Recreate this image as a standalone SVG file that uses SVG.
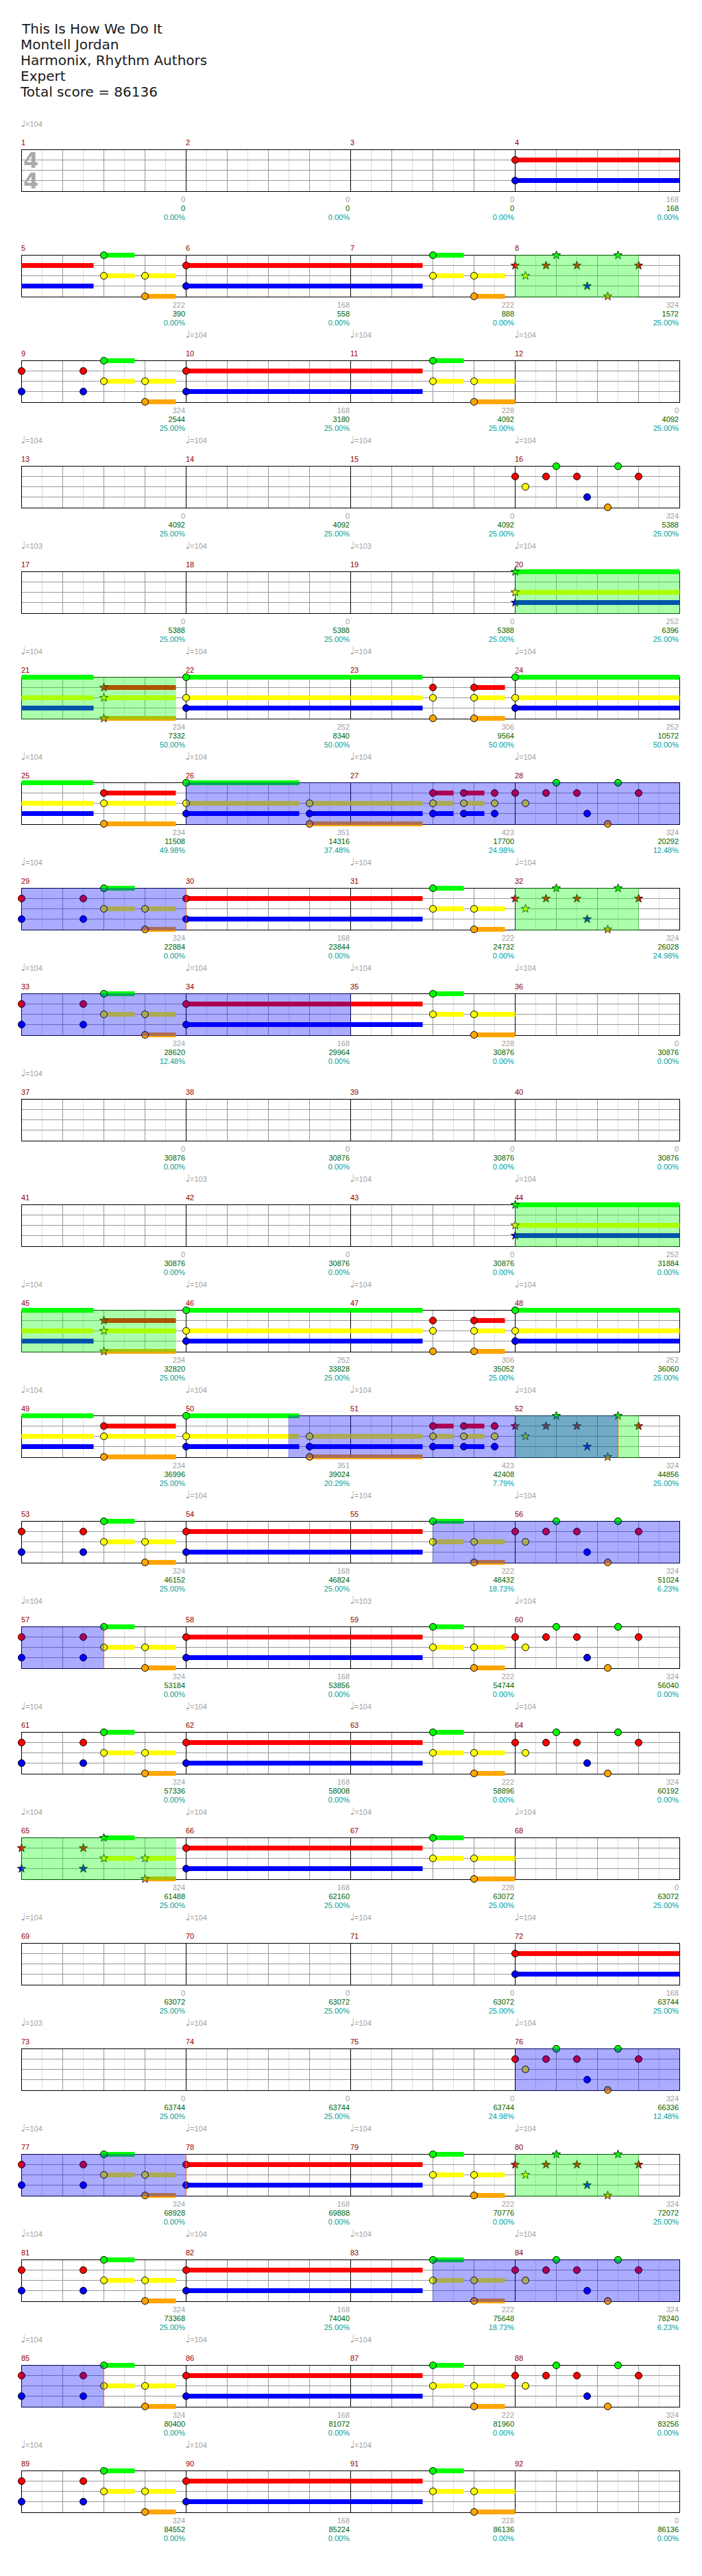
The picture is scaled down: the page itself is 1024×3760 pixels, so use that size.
<svg xmlns="http://www.w3.org/2000/svg" width="1024" height="3760" viewBox="0 0 1024 3760">
<style>
text{font-family:"Liberation Sans",Arial,sans-serif;font-size:11px}
.ti{font-family:"DejaVu Sans",Verdana,sans-serif;font-size:20px;fill:#1a1a1a}
.mn{fill:#900000}
.s1{fill:#a0a0a0;text-anchor:end}
.s2{fill:#006400;text-anchor:end}
.s3{fill:#00a0a0;text-anchor:end}
.tp{fill:#a0a0a0}
.q{font-family:"DejaVu Sans",sans-serif;font-size:15px;fill:#a0a0a0}
.ts{font-family:"DejaVu Sans",sans-serif;font-size:32px;font-weight:bold;fill:#aaaaaa}
.lt{stroke:#dddddd;stroke-width:1;fill:none}
.gy{stroke:#999999;stroke-width:1;fill:none}
.bk{stroke:#000000;stroke-width:1;fill:none}
.g{fill:#00ff00}.r{fill:#ff0000}.y{fill:#ffff00}.b{fill:#0000ff}.o{fill:#ffa500}
.h{stroke:#000000;stroke-width:1}
.st{stroke:#000000;stroke-width:0.8}
.sp{fill:#00ff00;fill-opacity:0.33}
.so{fill:#0000ff;fill-opacity:0.33}
.se{stroke:#e86040;stroke-width:1}
</style>
<defs>
<path id="star" d="M0,-6.5 L1.53,-2.1 L6.18,-2.01 L2.47,0.8 L3.82,5.26 L0,2.6 L-3.82,5.26 L-2.47,0.8 L-6.18,-2.01 L-1.53,-2.1 Z"/>
<g id="staff">
<path class="lt" d="M30 0V61M90 0V61M150 0V61M210 0V61M270 0V61M330 0V61M390 0V61M450 0V61M510 0V61M570 0V61M630 0V61M690 0V61M750 0V61M810 0V61M870 0V61M930 0V61"/>
<path class="gy" d="M60 0V61M120 0V61M180 0V61M300 0V61M360 0V61M420 0V61M540 0V61M600 0V61M660 0V61M780 0V61M840 0V61M900 0V61M0 15H960M0 30H960M0 45H960"/>
<path class="bk" d="M240 0V61M480 0V61M720 0V61"/>
<rect class="bk" x="0" y="0" width="960" height="61"/>
</g>
<g id="t104"><text class="q" x="-1" y="0">♩</text><text class="tp" x="5.5" y="0">=104</text></g>
<g id="t103"><text class="q" x="-1" y="0">♩</text><text class="tp" x="5.5" y="0">=103</text></g>
<g id="pS">
<circle class="h r" cx="0" cy="15" r="5"/><circle class="h y" cx="15" cy="30" r="5"/><circle class="h r" cx="45" cy="15" r="5"/><circle class="h g" cx="60" cy="0" r="5"/><circle class="h r" cx="90" cy="15" r="5"/><circle class="h b" cx="105" cy="45" r="5"/><circle class="h o" cx="135" cy="60" r="5"/><circle class="h g" cx="150" cy="0" r="5"/><circle class="h r" cx="180" cy="15" r="5"/>
</g>
<g id="pSs">
<use href="#star" class="st r" x="0" y="15"/><use href="#star" class="st y" x="15" y="30"/><use href="#star" class="st r" x="45" y="15"/><use href="#star" class="st g" x="60" y="0"/><use href="#star" class="st r" x="90" y="15"/><use href="#star" class="st b" x="105" y="45"/><use href="#star" class="st o" x="135" y="60"/><use href="#star" class="st g" x="150" y="0"/><use href="#star" class="st r" x="180" y="15"/>
</g>
<g id="pA">
<rect class="g" x="120" y="-3.5" width="45" height="7"/><rect class="y" x="120" y="26.5" width="45" height="7"/><rect class="y" x="180" y="26.5" width="45" height="7"/><rect class="o" x="180" y="56.5" width="45" height="7"/>
<circle class="h r" cx="0" cy="15" r="5"/><circle class="h b" cx="0" cy="45" r="5"/><circle class="h r" cx="90" cy="15" r="5"/><circle class="h b" cx="90" cy="45" r="5"/><circle class="h g" cx="120" cy="0" r="5"/><circle class="h y" cx="120" cy="30" r="5"/><circle class="h y" cx="180" cy="30" r="5"/><circle class="h o" cx="180" cy="60" r="5"/>
</g>
<g id="pAs">
<rect class="g" x="120" y="-3.5" width="45" height="7"/><rect class="y" x="120" y="26.5" width="45" height="7"/><rect class="y" x="180" y="26.5" width="45" height="7"/><rect class="o" x="180" y="56.5" width="45" height="7"/>
<use href="#star" class="st r" x="0" y="15"/><use href="#star" class="st b" x="0" y="45"/><use href="#star" class="st r" x="90" y="15"/><use href="#star" class="st b" x="90" y="45"/><use href="#star" class="st g" x="120" y="0"/><use href="#star" class="st y" x="120" y="30"/><use href="#star" class="st y" x="180" y="30"/><use href="#star" class="st o" x="180" y="60"/>
</g>
<g id="pA5">
<rect class="r" x="0" y="11.5" width="105" height="7"/><rect class="b" x="0" y="41.5" width="105" height="7"/>
<rect class="g" x="120" y="-3.5" width="45" height="7"/><rect class="y" x="120" y="26.5" width="45" height="7"/><rect class="y" x="180" y="26.5" width="45" height="7"/><rect class="o" x="180" y="56.5" width="45" height="7"/>
<circle class="h g" cx="120" cy="0" r="5"/><circle class="h y" cx="120" cy="30" r="5"/><circle class="h y" cx="180" cy="30" r="5"/><circle class="h o" cx="180" cy="60" r="5"/>
</g>
<g id="pBL">
<rect class="r" x="0" y="11.5" width="105" height="7"/><rect class="b" x="0" y="41.5" width="105" height="7"/>
<rect class="g" x="120" y="-3.5" width="45" height="7"/><rect class="y" x="120" y="26.5" width="45" height="7"/><rect class="y" x="180" y="26.5" width="60" height="7"/><rect class="o" x="180" y="56.5" width="60" height="7"/>
<circle class="h g" cx="120" cy="0" r="5"/><circle class="h y" cx="120" cy="30" r="5"/><circle class="h y" cx="180" cy="30" r="5"/><circle class="h o" cx="180" cy="60" r="5"/>
</g>
<g id="pB1">
<rect class="r" x="0" y="11.5" width="240" height="7"/><rect class="b" x="0" y="41.5" width="240" height="7"/>
<circle class="h r" cx="0" cy="15" r="5"/><circle class="h b" cx="0" cy="45" r="5"/>
</g>
<g id="pT1">
<rect class="g" x="0" y="-3.5" width="240" height="7"/><rect class="y" x="0" y="26.5" width="240" height="7"/><rect class="b" x="0" y="41.5" width="240" height="7"/>
<use href="#star" class="st g" x="0" y="0"/><use href="#star" class="st y" x="0" y="30"/><use href="#star" class="st b" x="0" y="45"/>
</g>
<g id="pC1">
<rect class="g" x="0" y="-3.5" width="240" height="7"/><rect class="y" x="0" y="26.5" width="240" height="7"/><rect class="b" x="0" y="41.5" width="240" height="7"/>
<circle class="h g" cx="0" cy="0" r="5"/><circle class="h y" cx="0" cy="30" r="5"/><circle class="h b" cx="0" cy="45" r="5"/>
</g>
<g id="pT2">
<rect class="g" x="0" y="-3.5" width="105" height="7"/><rect class="y" x="0" y="26.5" width="105" height="7"/><rect class="b" x="0" y="41.5" width="105" height="7"/>
<rect class="r" x="120" y="11.5" width="105" height="7"/><rect class="y" x="120" y="26.5" width="105" height="7"/><rect class="o" x="120" y="56.5" width="105" height="7"/>
<use href="#star" class="st r" x="120" y="15"/><use href="#star" class="st y" x="120" y="30"/><use href="#star" class="st o" x="120" y="60"/>
</g>
<g id="pC4">
<rect class="g" x="0" y="-3.5" width="105" height="7"/><rect class="y" x="0" y="26.5" width="105" height="7"/><rect class="b" x="0" y="41.5" width="105" height="7"/>
<rect class="r" x="120" y="11.5" width="105" height="7"/><rect class="y" x="120" y="26.5" width="105" height="7"/><rect class="o" x="120" y="56.5" width="105" height="7"/>
<circle class="h r" cx="120" cy="15" r="5"/><circle class="h y" cx="120" cy="30" r="5"/><circle class="h o" cx="120" cy="60" r="5"/>
</g>
<g id="pC2">
<rect class="g" x="0" y="-3.5" width="105" height="7"/><rect class="y" x="0" y="26.5" width="105" height="7"/><rect class="b" x="0" y="41.5" width="105" height="7"/>
<rect class="r" x="180" y="11.5" width="45" height="7"/><rect class="y" x="180" y="26.5" width="45" height="7"/><rect class="o" x="180" y="56.5" width="45" height="7"/>
<circle class="h r" cx="120" cy="15" r="5"/><circle class="h y" cx="120" cy="30" r="5"/><circle class="h o" cx="120" cy="60" r="5"/>
<circle class="h r" cx="180" cy="15" r="5"/><circle class="h y" cx="180" cy="30" r="5"/><circle class="h o" cx="180" cy="60" r="5"/>
</g>
<g id="pD1">
<rect class="g" x="0" y="-3.5" width="165" height="7"/><rect class="y" x="0" y="26.5" width="165" height="7"/><rect class="b" x="0" y="41.5" width="165" height="7"/>
<rect class="y" x="180" y="26.5" width="60" height="7"/><rect class="b" x="180" y="41.5" width="60" height="7"/><rect class="o" x="180" y="56.5" width="60" height="7"/>
<circle class="h g" cx="0" cy="0" r="5"/><circle class="h y" cx="0" cy="30" r="5"/><circle class="h b" cx="0" cy="45" r="5"/>
<circle class="h y" cx="180" cy="30" r="5"/><circle class="h b" cx="180" cy="45" r="5"/><circle class="h o" cx="180" cy="60" r="5"/>
</g>
<g id="pD2">
<rect class="y" x="0" y="26.5" width="105" height="7"/><rect class="b" x="0" y="41.5" width="105" height="7"/><rect class="o" x="0" y="56.5" width="105" height="7"/>
<rect class="r" x="120" y="11.5" width="30" height="7"/><rect class="y" x="120" y="26.5" width="30" height="7"/><rect class="b" x="120" y="41.5" width="30" height="7"/>
<rect class="r" x="165" y="11.5" width="30" height="7"/><rect class="y" x="165" y="26.5" width="30" height="7"/><rect class="b" x="165" y="41.5" width="30" height="7"/>
<circle class="h r" cx="120" cy="15" r="5"/><circle class="h y" cx="120" cy="30" r="5"/><circle class="h b" cx="120" cy="45" r="5"/>
<circle class="h r" cx="165" cy="15" r="5"/><circle class="h y" cx="165" cy="30" r="5"/><circle class="h b" cx="165" cy="45" r="5"/>
<circle class="h r" cx="210" cy="15" r="5"/><circle class="h y" cx="210" cy="30" r="5"/><circle class="h b" cx="210" cy="45" r="5"/>
</g>
</defs>
<rect x="0" y="0" width="1024" height="3760" fill="#ffffff"/>
<g id="title">
<text class="ti" x="32" y="49">This Is How We Do It</text>
<text class="ti" x="30" y="72">Montell Jordan</text>
<text class="ti" x="30" y="95">Harmonix, Rhythm Authors</text>
<text class="ti" x="30" y="118">Expert</text>
<text class="ti" x="30" y="141">Total score = 86136</text>
</g>

<g id="row1" transform="translate(31.5 218.5)">
<use href="#staff"/>
<text class="ts" x="2.5" y="26.5">4<tspan x="2.5" y="56.5">4</tspan></text>
<use href="#pB1" x="720"/>
<use href="#t104" y="-33.5"/>
<text class="mn" x="-0.5" y="-7">1</text><text class="mn" x="239.5" y="-7">2</text><text class="mn" x="479.5" y="-7">3</text><text class="mn" x="719.5" y="-7">4</text>
<text class="s1" x="238.5" y="76.5">0</text><text class="s2" x="238.5" y="89.5">0</text><text class="s3" x="238.5" y="102.5">0.00%</text>
<text class="s1" x="478.5" y="76.5">0</text><text class="s2" x="478.5" y="89.5">0</text><text class="s3" x="478.5" y="102.5">0.00%</text>
<text class="s1" x="718.5" y="76.5">0</text><text class="s2" x="718.5" y="89.5">0</text><text class="s3" x="718.5" y="102.5">0.00%</text>
<text class="s1" x="958.5" y="76.5">168</text><text class="s2" x="958.5" y="89.5">168</text><text class="s3" x="958.5" y="102.5">0.00%</text>
</g>

<g id="row2" transform="translate(31.5 372.5)">
<use href="#staff"/>
<use href="#pA5"/><use href="#pB1" x="240"/><use href="#pA5" x="480"/><use href="#pSs" x="720"/>
<rect class="sp" x="719.5" y="-0.5" width="181" height="62"/>
<text class="mn" x="-0.5" y="-7">5</text><text class="mn" x="239.5" y="-7">6</text><text class="mn" x="479.5" y="-7">7</text><text class="mn" x="719.5" y="-7">8</text>
<text class="s1" x="238.5" y="76.5">222</text><text class="s2" x="238.5" y="89.5">390</text><text class="s3" x="238.5" y="102.5">0.00%</text>
<text class="s1" x="478.5" y="76.5">168</text><text class="s2" x="478.5" y="89.5">558</text><text class="s3" x="478.5" y="102.5">0.00%</text>
<text class="s1" x="718.5" y="76.5">222</text><text class="s2" x="718.5" y="89.5">888</text><text class="s3" x="718.5" y="102.5">0.00%</text>
<text class="s1" x="958.5" y="76.5">324</text><text class="s2" x="958.5" y="89.5">1572</text><text class="s3" x="958.5" y="102.5">25.00%</text>
</g>

<g id="row3" transform="translate(31.5 526.5)">
<use href="#staff"/>
<use href="#pA"/><use href="#pB1" x="240"/><use href="#pBL" x="480"/>
<use href="#t104" x="240" y="-33.5"/><use href="#t104" x="480" y="-33.5"/><use href="#t104" x="720" y="-33.5"/>
<text class="mn" x="-0.5" y="-7">9</text><text class="mn" x="239.5" y="-7">10</text><text class="mn" x="479.5" y="-7">11</text><text class="mn" x="719.5" y="-7">12</text>
<text class="s1" x="238.5" y="76.5">324</text><text class="s2" x="238.5" y="89.5">2544</text><text class="s3" x="238.5" y="102.5">25.00%</text>
<text class="s1" x="478.5" y="76.5">168</text><text class="s2" x="478.5" y="89.5">3180</text><text class="s3" x="478.5" y="102.5">25.00%</text>
<text class="s1" x="718.5" y="76.5">228</text><text class="s2" x="718.5" y="89.5">4092</text><text class="s3" x="718.5" y="102.5">25.00%</text>
<text class="s1" x="958.5" y="76.5">0</text><text class="s2" x="958.5" y="89.5">4092</text><text class="s3" x="958.5" y="102.5">25.00%</text>
</g>

<g id="row4" transform="translate(31.5 680.5)">
<use href="#staff"/>
<use href="#pS" x="720"/>
<use href="#t104" y="-33.5"/><use href="#t104" x="240" y="-33.5"/><use href="#t104" x="480" y="-33.5"/><use href="#t104" x="720" y="-33.5"/>
<text class="mn" x="-0.5" y="-7">13</text><text class="mn" x="239.5" y="-7">14</text><text class="mn" x="479.5" y="-7">15</text><text class="mn" x="719.5" y="-7">16</text>
<text class="s1" x="238.5" y="76.5">0</text><text class="s2" x="238.5" y="89.5">4092</text><text class="s3" x="238.5" y="102.5">25.00%</text>
<text class="s1" x="478.5" y="76.5">0</text><text class="s2" x="478.5" y="89.5">4092</text><text class="s3" x="478.5" y="102.5">25.00%</text>
<text class="s1" x="718.5" y="76.5">0</text><text class="s2" x="718.5" y="89.5">4092</text><text class="s3" x="718.5" y="102.5">25.00%</text>
<text class="s1" x="958.5" y="76.5">324</text><text class="s2" x="958.5" y="89.5">5388</text><text class="s3" x="958.5" y="102.5">25.00%</text>
</g>

<g id="row5" transform="translate(31.5 834.5)">
<use href="#staff"/>
<use href="#pT1" x="720"/>
<rect class="sp" x="719.5" y="-0.5" width="241" height="62"/>
<use href="#t103" y="-33.5"/><use href="#t104" x="240" y="-33.5"/><use href="#t103" x="480" y="-33.5"/><use href="#t104" x="720" y="-33.5"/>
<text class="mn" x="-0.5" y="-7">17</text><text class="mn" x="239.5" y="-7">18</text><text class="mn" x="479.5" y="-7">19</text><text class="mn" x="719.5" y="-7">20</text>
<text class="s1" x="238.5" y="76.5">0</text><text class="s2" x="238.5" y="89.5">5388</text><text class="s3" x="238.5" y="102.5">25.00%</text>
<text class="s1" x="478.5" y="76.5">0</text><text class="s2" x="478.5" y="89.5">5388</text><text class="s3" x="478.5" y="102.5">25.00%</text>
<text class="s1" x="718.5" y="76.5">0</text><text class="s2" x="718.5" y="89.5">5388</text><text class="s3" x="718.5" y="102.5">25.00%</text>
<text class="s1" x="958.5" y="76.5">252</text><text class="s2" x="958.5" y="89.5">6396</text><text class="s3" x="958.5" y="102.5">25.00%</text>
</g>

<g id="row6" transform="translate(31.5 988.5)">
<use href="#staff"/>
<use href="#pT2"/><use href="#pC1" x="240"/><use href="#pC2" x="480"/><use href="#pC1" x="720"/>
<rect class="sp" x="-0.5" y="-0.5" width="226" height="62"/>
<use href="#t104" y="-33.5"/><use href="#t104" x="240" y="-33.5"/><use href="#t104" x="480" y="-33.5"/><use href="#t104" x="720" y="-33.5"/>
<text class="mn" x="-0.5" y="-7">21</text><text class="mn" x="239.5" y="-7">22</text><text class="mn" x="479.5" y="-7">23</text><text class="mn" x="719.5" y="-7">24</text>
<text class="s1" x="238.5" y="76.5">234</text><text class="s2" x="238.5" y="89.5">7332</text><text class="s3" x="238.5" y="102.5">50.00%</text>
<text class="s1" x="478.5" y="76.5">252</text><text class="s2" x="478.5" y="89.5">8340</text><text class="s3" x="478.5" y="102.5">50.00%</text>
<text class="s1" x="718.5" y="76.5">306</text><text class="s2" x="718.5" y="89.5">9564</text><text class="s3" x="718.5" y="102.5">50.00%</text>
<text class="s1" x="958.5" y="76.5">252</text><text class="s2" x="958.5" y="89.5">10572</text><text class="s3" x="958.5" y="102.5">50.00%</text>
</g>

<g id="row7" transform="translate(31.5 1142.5)">
<use href="#staff"/>
<use href="#pC4"/><use href="#pD1" x="240"/><use href="#pD2" x="480"/><use href="#pS" x="720"/>
<rect class="so" x="239.5" y="-0.5" width="721" height="62"/>
<use href="#t104" y="-33.5"/><use href="#t104" x="240" y="-33.5"/><use href="#t104" x="480" y="-33.5"/><use href="#t104" x="720" y="-33.5"/>
<text class="mn" x="-0.5" y="-7">25</text><text class="mn" x="239.5" y="-7">26</text><text class="mn" x="479.5" y="-7">27</text><text class="mn" x="719.5" y="-7">28</text>
<text class="s1" x="238.5" y="76.5">234</text><text class="s2" x="238.5" y="89.5">11508</text><text class="s3" x="238.5" y="102.5">49.98%</text>
<text class="s1" x="478.5" y="76.5">351</text><text class="s2" x="478.5" y="89.5">14316</text><text class="s3" x="478.5" y="102.5">37.48%</text>
<text class="s1" x="718.5" y="76.5">423</text><text class="s2" x="718.5" y="89.5">17700</text><text class="s3" x="718.5" y="102.5">24.98%</text>
<text class="s1" x="958.5" y="76.5">324</text><text class="s2" x="958.5" y="89.5">20292</text><text class="s3" x="958.5" y="102.5">12.48%</text>
</g>

<g id="row8" transform="translate(31.5 1296.5)">
<use href="#staff"/>
<use href="#pA"/><use href="#pB1" x="240"/><use href="#pA5" x="480"/><use href="#pSs" x="720"/>
<rect class="so" x="-0.5" y="-0.5" width="241" height="62"/>
<path class="se" d="M240 0V61"/>
<rect class="sp" x="719.5" y="-0.5" width="181" height="62"/>
<use href="#t104" y="-33.5"/><use href="#t104" x="480" y="-33.5"/><use href="#t104" x="720" y="-33.5"/>
<text class="mn" x="-0.5" y="-7">29</text><text class="mn" x="239.5" y="-7">30</text><text class="mn" x="479.5" y="-7">31</text><text class="mn" x="719.5" y="-7">32</text>
<text class="s1" x="238.5" y="76.5">324</text><text class="s2" x="238.5" y="89.5">22884</text><text class="s3" x="238.5" y="102.5">0.00%</text>
<text class="s1" x="478.5" y="76.5">168</text><text class="s2" x="478.5" y="89.5">23844</text><text class="s3" x="478.5" y="102.5">0.00%</text>
<text class="s1" x="718.5" y="76.5">222</text><text class="s2" x="718.5" y="89.5">24732</text><text class="s3" x="718.5" y="102.5">0.00%</text>
<text class="s1" x="958.5" y="76.5">324</text><text class="s2" x="958.5" y="89.5">26028</text><text class="s3" x="958.5" y="102.5">24.98%</text>
</g>

<g id="row9" transform="translate(31.5 1450.5)">
<use href="#staff"/>
<use href="#pA"/><use href="#pB1" x="240"/><use href="#pBL" x="480"/>
<rect class="so" x="-0.5" y="-0.5" width="481" height="62"/>
<use href="#t104" y="-33.5"/><use href="#t104" x="240" y="-33.5"/><use href="#t104" x="480" y="-33.5"/><use href="#t104" x="720" y="-33.5"/>
<text class="mn" x="-0.5" y="-7">33</text><text class="mn" x="239.5" y="-7">34</text><text class="mn" x="479.5" y="-7">35</text><text class="mn" x="719.5" y="-7">36</text>
<text class="s1" x="238.5" y="76.5">324</text><text class="s2" x="238.5" y="89.5">28620</text><text class="s3" x="238.5" y="102.5">12.48%</text>
<text class="s1" x="478.5" y="76.5">168</text><text class="s2" x="478.5" y="89.5">29964</text><text class="s3" x="478.5" y="102.5">0.00%</text>
<text class="s1" x="718.5" y="76.5">228</text><text class="s2" x="718.5" y="89.5">30876</text><text class="s3" x="718.5" y="102.5">0.00%</text>
<text class="s1" x="958.5" y="76.5">0</text><text class="s2" x="958.5" y="89.5">30876</text><text class="s3" x="958.5" y="102.5">0.00%</text>
</g>

<g id="row10" transform="translate(31.5 1604.5)">
<use href="#staff"/>
<use href="#t104" y="-33.5"/>
<text class="mn" x="-0.5" y="-7">37</text><text class="mn" x="239.5" y="-7">38</text><text class="mn" x="479.5" y="-7">39</text><text class="mn" x="719.5" y="-7">40</text>
<text class="s1" x="238.5" y="76.5">0</text><text class="s2" x="238.5" y="89.5">30876</text><text class="s3" x="238.5" y="102.5">0.00%</text>
<text class="s1" x="478.5" y="76.5">0</text><text class="s2" x="478.5" y="89.5">30876</text><text class="s3" x="478.5" y="102.5">0.00%</text>
<text class="s1" x="718.5" y="76.5">0</text><text class="s2" x="718.5" y="89.5">30876</text><text class="s3" x="718.5" y="102.5">0.00%</text>
<text class="s1" x="958.5" y="76.5">0</text><text class="s2" x="958.5" y="89.5">30876</text><text class="s3" x="958.5" y="102.5">0.00%</text>
</g>

<g id="row11" transform="translate(31.5 1758.5)">
<use href="#staff"/>
<use href="#pT1" x="720"/>
<rect class="sp" x="719.5" y="-0.5" width="241" height="62"/>
<use href="#t103" x="240" y="-33.5"/><use href="#t104" x="480" y="-33.5"/><use href="#t104" x="720" y="-33.5"/>
<text class="mn" x="-0.5" y="-7">41</text><text class="mn" x="239.5" y="-7">42</text><text class="mn" x="479.5" y="-7">43</text><text class="mn" x="719.5" y="-7">44</text>
<text class="s1" x="238.5" y="76.5">0</text><text class="s2" x="238.5" y="89.5">30876</text><text class="s3" x="238.5" y="102.5">0.00%</text>
<text class="s1" x="478.5" y="76.5">0</text><text class="s2" x="478.5" y="89.5">30876</text><text class="s3" x="478.5" y="102.5">0.00%</text>
<text class="s1" x="718.5" y="76.5">0</text><text class="s2" x="718.5" y="89.5">30876</text><text class="s3" x="718.5" y="102.5">0.00%</text>
<text class="s1" x="958.5" y="76.5">252</text><text class="s2" x="958.5" y="89.5">31884</text><text class="s3" x="958.5" y="102.5">0.00%</text>
</g>

<g id="row12" transform="translate(31.5 1912.5)">
<use href="#staff"/>
<use href="#pT2"/><use href="#pC1" x="240"/><use href="#pC2" x="480"/><use href="#pC1" x="720"/>
<rect class="sp" x="-0.5" y="-0.5" width="226" height="62"/>
<use href="#t104" y="-33.5"/><use href="#t104" x="240" y="-33.5"/><use href="#t104" x="480" y="-33.5"/><use href="#t104" x="720" y="-33.5"/>
<text class="mn" x="-0.5" y="-7">45</text><text class="mn" x="239.5" y="-7">46</text><text class="mn" x="479.5" y="-7">47</text><text class="mn" x="719.5" y="-7">48</text>
<text class="s1" x="238.5" y="76.5">234</text><text class="s2" x="238.5" y="89.5">32820</text><text class="s3" x="238.5" y="102.5">25.00%</text>
<text class="s1" x="478.5" y="76.5">252</text><text class="s2" x="478.5" y="89.5">33828</text><text class="s3" x="478.5" y="102.5">25.00%</text>
<text class="s1" x="718.5" y="76.5">306</text><text class="s2" x="718.5" y="89.5">35052</text><text class="s3" x="718.5" y="102.5">25.00%</text>
<text class="s1" x="958.5" y="76.5">252</text><text class="s2" x="958.5" y="89.5">36060</text><text class="s3" x="958.5" y="102.5">25.00%</text>
</g>

<g id="row13" transform="translate(31.5 2066.5)">
<use href="#staff"/>
<use href="#pC4"/><use href="#pD1" x="240"/><use href="#pD2" x="480"/><use href="#pSs" x="720"/>
<rect class="sp" x="719.5" y="-0.5" width="181" height="62"/>
<rect class="so" x="389" y="-0.5" width="481" height="62"/>
<path class="se" d="M870 0V61"/>
<use href="#t104" y="-33.5"/><use href="#t104" x="240" y="-33.5"/><use href="#t104" x="480" y="-33.5"/><use href="#t104" x="720" y="-33.5"/>
<text class="mn" x="-0.5" y="-7">49</text><text class="mn" x="239.5" y="-7">50</text><text class="mn" x="479.5" y="-7">51</text><text class="mn" x="719.5" y="-7">52</text>
<text class="s1" x="238.5" y="76.5">234</text><text class="s2" x="238.5" y="89.5">36996</text><text class="s3" x="238.5" y="102.5">25.00%</text>
<text class="s1" x="478.5" y="76.5">351</text><text class="s2" x="478.5" y="89.5">39024</text><text class="s3" x="478.5" y="102.5">20.29%</text>
<text class="s1" x="718.5" y="76.5">423</text><text class="s2" x="718.5" y="89.5">42408</text><text class="s3" x="718.5" y="102.5">7.79%</text>
<text class="s1" x="958.5" y="76.5">324</text><text class="s2" x="958.5" y="89.5">44856</text><text class="s3" x="958.5" y="102.5">25.00%</text>
</g>

<g id="row14" transform="translate(31.5 2220.5)">
<use href="#staff"/>
<use href="#pA"/><use href="#pB1" x="240"/><use href="#pA5" x="480"/><use href="#pS" x="720"/>
<rect class="so" x="599.5" y="-0.5" width="361" height="62"/>
<use href="#t104" x="240" y="-33.5"/><use href="#t104" x="480" y="-33.5"/><use href="#t104" x="720" y="-33.5"/>
<text class="mn" x="-0.5" y="-7">53</text><text class="mn" x="239.5" y="-7">54</text><text class="mn" x="479.5" y="-7">55</text><text class="mn" x="719.5" y="-7">56</text>
<text class="s1" x="238.5" y="76.5">324</text><text class="s2" x="238.5" y="89.5">46152</text><text class="s3" x="238.5" y="102.5">25.00%</text>
<text class="s1" x="478.5" y="76.5">168</text><text class="s2" x="478.5" y="89.5">46824</text><text class="s3" x="478.5" y="102.5">25.00%</text>
<text class="s1" x="718.5" y="76.5">222</text><text class="s2" x="718.5" y="89.5">48432</text><text class="s3" x="718.5" y="102.5">18.73%</text>
<text class="s1" x="958.5" y="76.5">324</text><text class="s2" x="958.5" y="89.5">51024</text><text class="s3" x="958.5" y="102.5">6.23%</text>
</g>

<g id="row15" transform="translate(31.5 2374.5)">
<use href="#staff"/>
<use href="#pA"/><use href="#pB1" x="240"/><use href="#pA5" x="480"/><use href="#pS" x="720"/>
<rect class="so" x="-0.5" y="-0.5" width="121" height="62"/>
<path class="se" d="M120 0V61"/>
<use href="#t104" y="-33.5"/><use href="#t103" x="480" y="-33.5"/><use href="#t104" x="720" y="-33.5"/>
<text class="mn" x="-0.5" y="-7">57</text><text class="mn" x="239.5" y="-7">58</text><text class="mn" x="479.5" y="-7">59</text><text class="mn" x="719.5" y="-7">60</text>
<text class="s1" x="238.5" y="76.5">324</text><text class="s2" x="238.5" y="89.5">53184</text><text class="s3" x="238.5" y="102.5">0.00%</text>
<text class="s1" x="478.5" y="76.5">168</text><text class="s2" x="478.5" y="89.5">53856</text><text class="s3" x="478.5" y="102.5">0.00%</text>
<text class="s1" x="718.5" y="76.5">222</text><text class="s2" x="718.5" y="89.5">54744</text><text class="s3" x="718.5" y="102.5">0.00%</text>
<text class="s1" x="958.5" y="76.5">324</text><text class="s2" x="958.5" y="89.5">56040</text><text class="s3" x="958.5" y="102.5">0.00%</text>
</g>

<g id="row16" transform="translate(31.5 2528.5)">
<use href="#staff"/>
<use href="#pA"/><use href="#pB1" x="240"/><use href="#pA5" x="480"/><use href="#pS" x="720"/>
<use href="#t104" y="-33.5"/><use href="#t104" x="240" y="-33.5"/><use href="#t104" x="480" y="-33.5"/><use href="#t104" x="720" y="-33.5"/>
<text class="mn" x="-0.5" y="-7">61</text><text class="mn" x="239.5" y="-7">62</text><text class="mn" x="479.5" y="-7">63</text><text class="mn" x="719.5" y="-7">64</text>
<text class="s1" x="238.5" y="76.5">324</text><text class="s2" x="238.5" y="89.5">57336</text><text class="s3" x="238.5" y="102.5">0.00%</text>
<text class="s1" x="478.5" y="76.5">168</text><text class="s2" x="478.5" y="89.5">58008</text><text class="s3" x="478.5" y="102.5">0.00%</text>
<text class="s1" x="718.5" y="76.5">222</text><text class="s2" x="718.5" y="89.5">58896</text><text class="s3" x="718.5" y="102.5">0.00%</text>
<text class="s1" x="958.5" y="76.5">324</text><text class="s2" x="958.5" y="89.5">60192</text><text class="s3" x="958.5" y="102.5">0.00%</text>
</g>

<g id="row17" transform="translate(31.5 2682.5)">
<use href="#staff"/>
<use href="#pAs"/><use href="#pB1" x="240"/><use href="#pBL" x="480"/>
<rect class="sp" x="-0.5" y="-0.5" width="226" height="62"/>
<use href="#t104" y="-33.5"/><use href="#t104" x="240" y="-33.5"/><use href="#t104" x="480" y="-33.5"/><use href="#t104" x="720" y="-33.5"/>
<text class="mn" x="-0.5" y="-7">65</text><text class="mn" x="239.5" y="-7">66</text><text class="mn" x="479.5" y="-7">67</text><text class="mn" x="719.5" y="-7">68</text>
<text class="s1" x="238.5" y="76.5">324</text><text class="s2" x="238.5" y="89.5">61488</text><text class="s3" x="238.5" y="102.5">25.00%</text>
<text class="s1" x="478.5" y="76.5">168</text><text class="s2" x="478.5" y="89.5">62160</text><text class="s3" x="478.5" y="102.5">25.00%</text>
<text class="s1" x="718.5" y="76.5">228</text><text class="s2" x="718.5" y="89.5">63072</text><text class="s3" x="718.5" y="102.5">25.00%</text>
<text class="s1" x="958.5" y="76.5">0</text><text class="s2" x="958.5" y="89.5">63072</text><text class="s3" x="958.5" y="102.5">25.00%</text>
</g>

<g id="row18" transform="translate(31.5 2836.5)">
<use href="#staff"/>
<use href="#pB1" x="720"/>
<use href="#t104" y="-33.5"/><use href="#t104" x="240" y="-33.5"/><use href="#t104" x="480" y="-33.5"/><use href="#t104" x="720" y="-33.5"/>
<text class="mn" x="-0.5" y="-7">69</text><text class="mn" x="239.5" y="-7">70</text><text class="mn" x="479.5" y="-7">71</text><text class="mn" x="719.5" y="-7">72</text>
<text class="s1" x="238.5" y="76.5">0</text><text class="s2" x="238.5" y="89.5">63072</text><text class="s3" x="238.5" y="102.5">25.00%</text>
<text class="s1" x="478.5" y="76.5">0</text><text class="s2" x="478.5" y="89.5">63072</text><text class="s3" x="478.5" y="102.5">25.00%</text>
<text class="s1" x="718.5" y="76.5">0</text><text class="s2" x="718.5" y="89.5">63072</text><text class="s3" x="718.5" y="102.5">25.00%</text>
<text class="s1" x="958.5" y="76.5">168</text><text class="s2" x="958.5" y="89.5">63744</text><text class="s3" x="958.5" y="102.5">25.00%</text>
</g>

<g id="row19" transform="translate(31.5 2990.5)">
<use href="#staff"/>
<use href="#pS" x="720"/>
<rect class="so" x="719.5" y="-0.5" width="241" height="62"/>
<use href="#t103" y="-33.5"/><use href="#t104" x="240" y="-33.5"/><use href="#t104" x="480" y="-33.5"/><use href="#t104" x="720" y="-33.5"/>
<text class="mn" x="-0.5" y="-7">73</text><text class="mn" x="239.5" y="-7">74</text><text class="mn" x="479.5" y="-7">75</text><text class="mn" x="719.5" y="-7">76</text>
<text class="s1" x="238.5" y="76.5">0</text><text class="s2" x="238.5" y="89.5">63744</text><text class="s3" x="238.5" y="102.5">25.00%</text>
<text class="s1" x="478.5" y="76.5">0</text><text class="s2" x="478.5" y="89.5">63744</text><text class="s3" x="478.5" y="102.5">25.00%</text>
<text class="s1" x="718.5" y="76.5">0</text><text class="s2" x="718.5" y="89.5">63744</text><text class="s3" x="718.5" y="102.5">24.98%</text>
<text class="s1" x="958.5" y="76.5">324</text><text class="s2" x="958.5" y="89.5">66336</text><text class="s3" x="958.5" y="102.5">12.48%</text>
</g>

<g id="row20" transform="translate(31.5 3144.5)">
<use href="#staff"/>
<use href="#pA"/><use href="#pB1" x="240"/><use href="#pA5" x="480"/><use href="#pSs" x="720"/>
<rect class="so" x="-0.5" y="-0.5" width="241" height="62"/>
<path class="se" d="M240 0V61"/>
<rect class="sp" x="719.5" y="-0.5" width="181" height="62"/>
<use href="#t104" y="-33.5"/><use href="#t104" x="240" y="-33.5"/><use href="#t104" x="480" y="-33.5"/><use href="#t104" x="720" y="-33.5"/>
<text class="mn" x="-0.5" y="-7">77</text><text class="mn" x="239.5" y="-7">78</text><text class="mn" x="479.5" y="-7">79</text><text class="mn" x="719.5" y="-7">80</text>
<text class="s1" x="238.5" y="76.5">324</text><text class="s2" x="238.5" y="89.5">68928</text><text class="s3" x="238.5" y="102.5">0.00%</text>
<text class="s1" x="478.5" y="76.5">168</text><text class="s2" x="478.5" y="89.5">69888</text><text class="s3" x="478.5" y="102.5">0.00%</text>
<text class="s1" x="718.5" y="76.5">222</text><text class="s2" x="718.5" y="89.5">70776</text><text class="s3" x="718.5" y="102.5">0.00%</text>
<text class="s1" x="958.5" y="76.5">324</text><text class="s2" x="958.5" y="89.5">72072</text><text class="s3" x="958.5" y="102.5">25.00%</text>
</g>

<g id="row21" transform="translate(31.5 3298.5)">
<use href="#staff"/>
<use href="#pA"/><use href="#pB1" x="240"/><use href="#pA5" x="480"/><use href="#pS" x="720"/>
<rect class="so" x="599.5" y="-0.5" width="361" height="62"/>
<use href="#t104" y="-33.5"/><use href="#t104" x="240" y="-33.5"/><use href="#t104" x="480" y="-33.5"/><use href="#t104" x="720" y="-33.5"/>
<text class="mn" x="-0.5" y="-7">81</text><text class="mn" x="239.5" y="-7">82</text><text class="mn" x="479.5" y="-7">83</text><text class="mn" x="719.5" y="-7">84</text>
<text class="s1" x="238.5" y="76.5">324</text><text class="s2" x="238.5" y="89.5">73368</text><text class="s3" x="238.5" y="102.5">25.00%</text>
<text class="s1" x="478.5" y="76.5">168</text><text class="s2" x="478.5" y="89.5">74040</text><text class="s3" x="478.5" y="102.5">25.00%</text>
<text class="s1" x="718.5" y="76.5">222</text><text class="s2" x="718.5" y="89.5">75648</text><text class="s3" x="718.5" y="102.5">18.73%</text>
<text class="s1" x="958.5" y="76.5">324</text><text class="s2" x="958.5" y="89.5">78240</text><text class="s3" x="958.5" y="102.5">6.23%</text>
</g>

<g id="row22" transform="translate(31.5 3452.5)">
<use href="#staff"/>
<use href="#pA"/><use href="#pB1" x="240"/><use href="#pA5" x="480"/><use href="#pS" x="720"/>
<rect class="so" x="-0.5" y="-0.5" width="121" height="62"/>
<path class="se" d="M120 0V61"/>
<use href="#t104" y="-33.5"/><use href="#t104" x="240" y="-33.5"/><use href="#t104" x="480" y="-33.5"/>
<text class="mn" x="-0.5" y="-7">85</text><text class="mn" x="239.5" y="-7">86</text><text class="mn" x="479.5" y="-7">87</text><text class="mn" x="719.5" y="-7">88</text>
<text class="s1" x="238.5" y="76.5">324</text><text class="s2" x="238.5" y="89.5">80400</text><text class="s3" x="238.5" y="102.5">0.00%</text>
<text class="s1" x="478.5" y="76.5">168</text><text class="s2" x="478.5" y="89.5">81072</text><text class="s3" x="478.5" y="102.5">0.00%</text>
<text class="s1" x="718.5" y="76.5">222</text><text class="s2" x="718.5" y="89.5">81960</text><text class="s3" x="718.5" y="102.5">0.00%</text>
<text class="s1" x="958.5" y="76.5">324</text><text class="s2" x="958.5" y="89.5">83256</text><text class="s3" x="958.5" y="102.5">0.00%</text>
</g>

<g id="row23" transform="translate(31.5 3606.5)">
<use href="#staff"/>
<use href="#pA"/><use href="#pB1" x="240"/><use href="#pBL" x="480"/>
<use href="#t104" y="-33.5"/><use href="#t104" x="240" y="-33.5"/><use href="#t104" x="480" y="-33.5"/>
<text class="mn" x="-0.5" y="-7">89</text><text class="mn" x="239.5" y="-7">90</text><text class="mn" x="479.5" y="-7">91</text><text class="mn" x="719.5" y="-7">92</text>
<text class="s1" x="238.5" y="76.5">324</text><text class="s2" x="238.5" y="89.5">84552</text><text class="s3" x="238.5" y="102.5">0.00%</text>
<text class="s1" x="478.5" y="76.5">168</text><text class="s2" x="478.5" y="89.5">85224</text><text class="s3" x="478.5" y="102.5">0.00%</text>
<text class="s1" x="718.5" y="76.5">228</text><text class="s2" x="718.5" y="89.5">86136</text><text class="s3" x="718.5" y="102.5">0.00%</text>
<text class="s1" x="958.5" y="76.5">0</text><text class="s2" x="958.5" y="89.5">86136</text><text class="s3" x="958.5" y="102.5">0.00%</text>
</g>
</svg>
